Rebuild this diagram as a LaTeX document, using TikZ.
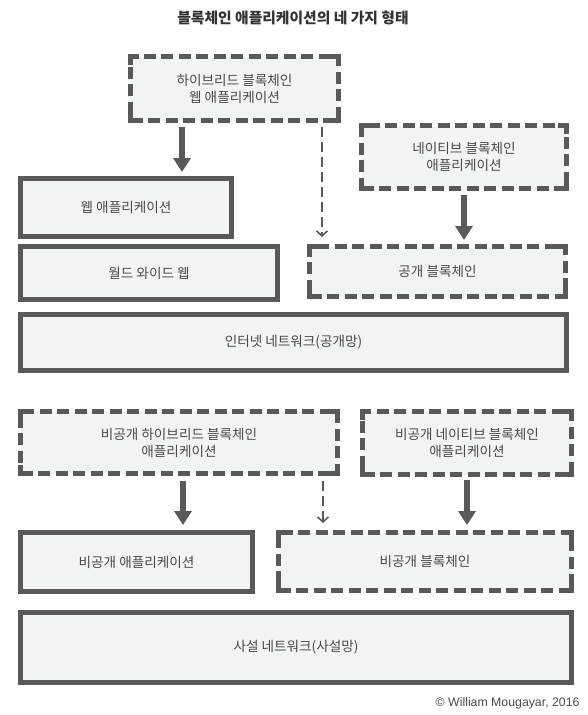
\documentclass[tikz,border=0pt]{standalone}
\usepackage{fontspec}
\setmainfont{Noto Sans CJK KR}
\newfontfamily\latinf{Liberation Sans}
\usetikzlibrary{arrows.meta,calc}
\definecolor{bd}{HTML}{595959}
\definecolor{fl}{HTML}{F2F3F3}
\definecolor{tx}{HTML}{4A4A4A}
\definecolor{ttl}{HTML}{333333}
\begin{document}
\begin{tikzpicture}[x=1pt,y=-1pt,
  box/.style={draw=bd, fill=fl, line width=5pt, rectangle, inner sep=0pt, text=tx,
    font=\fontsize{13.6}{17}\selectfont, align=center},
  solidbox/.style={box},
  dashbox/.style={box, dash pattern=on 12pt off 5.5pt},
  cornerline/.style={draw=bd, line width=5pt, line cap=butt, miter limit=10},
  sarrow/.style={draw=bd, line width=5.5pt, -{Triangle[length=14pt,width=17pt]}},
  darrow/.style={draw=bd, line width=2pt, dash pattern=on 10pt off 5pt,
    -{Straight Barb[length=5pt,width=11pt,line width=1.6pt]}}]
\useasboundingbox (0,0) rectangle (588,715);

\node[font=\bfseries\fontsize{14.8}{17}\selectfont, text=ttl] (title) at (293,18) {블록체인 애플리케이션의 네 가지 형태};

% upper section
\node[dashbox, minimum width=208pt, minimum height=64pt] (A) at (234.5,88.5) {하이브리드 블록체인\\웹 애플리케이션};
\node[dashbox, minimum width=205pt, minimum height=63pt] (B) at (464,157) {네이티브 블록체인\\애플리케이션};
\node[solidbox, minimum width=211pt, minimum height=58pt] (Web) at (126,207.5) {웹 애플리케이션};
\node[solidbox, minimum width=257pt, minimum height=53pt] (WWW) at (149,273) {월드 와이드 웹};
\node[dashbox, minimum width=256pt, minimum height=50pt] (Pub) at (437.5,271.5) {공개 블록체인};
\node[solidbox, minimum width=546pt, minimum height=56pt] (Net) at (293.5,342.5) {인터넷 네트워크(공개망)};

% lower section
\node[dashbox, minimum width=317pt, minimum height=62pt] (PH) at (179,442.5) {비공개 하이브리드 블록체인\\애플리케이션};
\node[dashbox, minimum width=209pt, minimum height=63pt] (PN) at (467,443) {비공개 네이티브 블록체인\\애플리케이션};
\node[solidbox, minimum width=232pt, minimum height=59pt] (PA) at (136.5,562) {비공개 애플리케이션};
\node[dashbox, minimum width=293pt, minimum height=58pt] (PB) at (425,561.5) {비공개 블록체인};
\node[solidbox, minimum width=551pt, minimum height=70pt] (PNet) at (296,647.5) {사설 네트워크(사설망)};

% solid corner pieces of the dashed boxes
\foreach \n in {A,B,Pub,PH,PN,PB}{
  \draw[cornerline] ($(\n.north west)+(2.5,11)$) -- ($(\n.north west)+(2.5,2.5)$) -- ($(\n.north west)+(11,2.5)$);
  \draw[cornerline] ($(\n.north east)+(-2.5,11)$) -- ($(\n.north east)+(-2.5,2.5)$) -- ($(\n.north east)+(-11,2.5)$);
  \draw[cornerline] ($(\n.south west)+(2.5,-11)$) -- ($(\n.south west)+(2.5,-2.5)$) -- ($(\n.south west)+(11,-2.5)$);
  \draw[cornerline] ($(\n.south east)+(-2.5,-11)$) -- ($(\n.south east)+(-2.5,-2.5)$) -- ($(\n.south east)+(-11,-2.5)$);
}

\node[anchor=east, text=tx, font=\latinf\fontsize{12.3}{14}\selectfont] (copy) at (583,703) {© William Mougayar, 2016};

% connector x positions
\coordinate (xa) at (182,0);
\coordinate (xd) at (322,0);
\coordinate (xe) at (183,0);
\coordinate (xf) at (323,0);

\draw[sarrow] ($(A.south -| xa)+(0,4)$) -- ($(Web.north -| xa)+(0,-4)$);
\draw[darrow] ($(A.south -| xd)+(0,4)$) -- ($(Pub.north -| xd)+(0,-7)$);
\draw[sarrow] ($(B.south)+(0,4)$) -- ($(Pub.north -| B.south)+(0,-4)$);

\draw[sarrow] ($(PH.south -| xe)+(0,5)$) -- ($(PA.north -| xe)+(0,-5)$);
\draw[darrow] ($(PH.south -| xf)+(0,5)$) -- ($(PB.north -| xf)+(0,-7)$);
\draw[sarrow] ($(PN.south)+(0,3)$) -- ($(PB.north -| PN.south)+(0,-5)$);
\end{tikzpicture}
\end{document}
